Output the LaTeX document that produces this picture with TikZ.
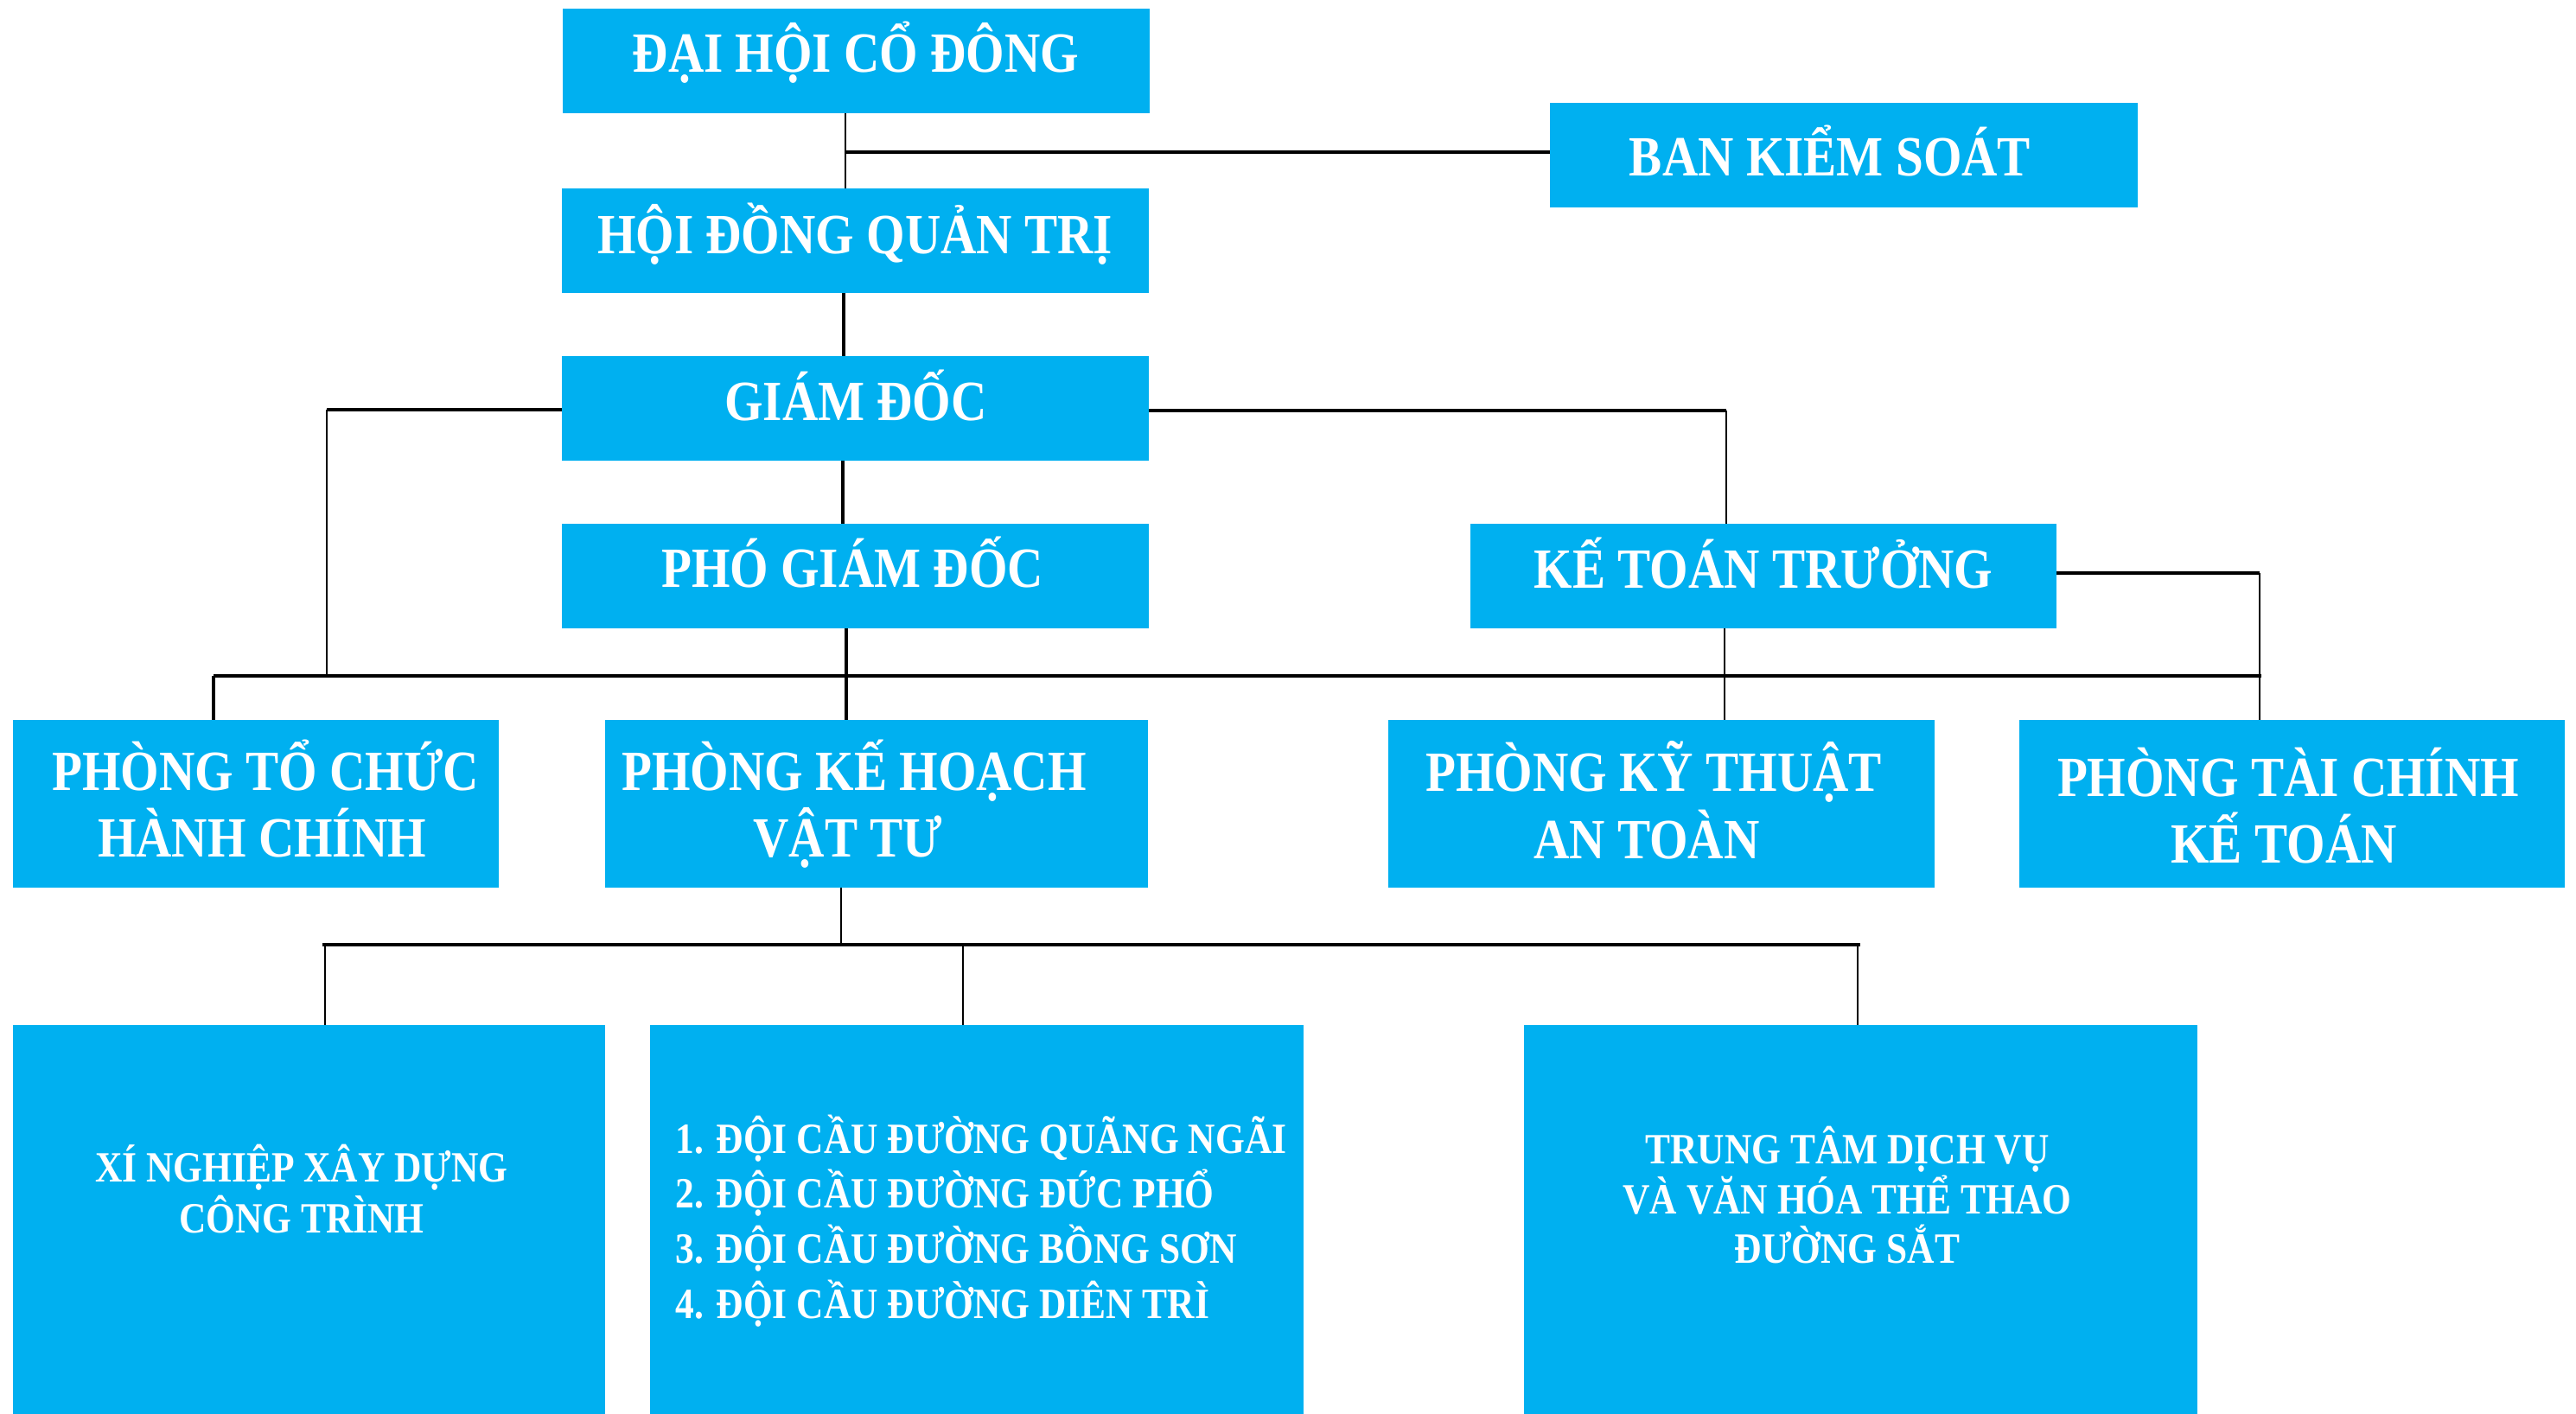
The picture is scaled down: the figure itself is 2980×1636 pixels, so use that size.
\documentclass[tikz,border=0pt]{standalone}
\usepackage{fontspec}
\newfontfamily\bxf{Liberation Serif}[FakeStretch=0.87]
\definecolor{boxblue}{HTML}{00B0F0}
\begin{document}
\begin{tikzpicture}[x=0.01cm,y=-0.01cm,
  box/.style={fill=boxblue, draw=none, inner sep=0pt, outer sep=0pt, minimum height=1.21cm},
  tall/.style={box, minimum height=1.94cm},
  huge/.style={box, minimum height=4.5cm},
  big/.style={text=white, font=\bxf\bfseries\fontsize{18.7}{22}\selectfont, inner sep=0pt, anchor=base},
  small/.style={text=white, font=\bxf\bfseries\fontsize{14.2}{17}\selectfont, inner sep=0pt, anchor=base},
  thin/.style={line width=0.65pt, black},
  mid/.style={line width=0.95pt, black},
  thick/.style={line width=1.2pt, black}]
\useasboundingbox[fill=white] (0,0) rectangle (2980,1636);

% boxes
\node[box, minimum width=6.79cm] (dh) at (990.5,70.5) {};
\node[box, minimum width=6.80cm] (bks) at (2133,179.5) {};
\node[box, minimum width=6.79cm] (hdqt) at (989.5,278.5) {};
\node[box, minimum width=6.79cm] (gd) at (989.5,472.5) {};
\node[box, minimum width=6.79cm] (pgd) at (989.5,666.5) {};
\node[box, minimum width=6.78cm] (ktt) at (2040,666.5) {};
\node[tall, minimum width=5.62cm] (ptchc) at (296,930) {};
\node[tall, minimum width=6.28cm] (pkhvt) at (1014,930) {};
\node[tall, minimum width=6.32cm] (pktat) at (1922,930) {};
\node[tall, minimum width=6.31cm] (ptckt) at (2651.5,930) {};
\node[huge, minimum width=6.85cm] (xn) at (357.5,1411) {};
\node[huge, minimum width=7.56cm] (doi) at (1130,1411) {};
\node[huge, minimum width=7.79cm] (tt) at (2152.5,1411) {};

% texts
\node[big] (dh-t) at (990,83) {ĐẠI HỘI CỔ ĐÔNG};
\node[big] (bks-t) at (2117,203) {BAN KIỂM SOÁT};
\node[big] (hdqt-t) at (989,293) {HỘI ĐỒNG QUẢN TRỊ};
\node[big] (gd-t) at (990,486) {GIÁM ĐỐC};
\node[big] (pgd-t) at (986,679) {PHÓ GIÁM ĐỐC};
\node[big] (ktt-t) at (2040,680) {KẾ TOÁN TRƯỞNG};
\node[big] (ptchc-t1) at (307,914) {PHÒNG TỔ CHỨC};
\node[big] (ptchc-t2) at (303,991) {HÀNH CHÍNH};
\node[big] (pkhvt-t1) at (988,914) {PHÒNG KẾ HOẠCH};
\node[big] (pkhvt-t2) at (981,991) {VẬT TƯ};
\node[big] (pktat-t1) at (1913,915) {PHÒNG KỸ THUẬT};
\node[big] (pktat-t2) at (1905,993) {AN TOÀN};
\node[big] (ptckt-t1) at (2647,921) {PHÒNG TÀI CHÍNH};
\node[big] (ptckt-t2) at (2642,998) {KẾ TOÁN};
\node[small] (xn-t1) at (349,1367) {XÍ NGHIỆP XÂY DỰNG};
\node[small] (xn-t2) at (349,1426) {CÔNG TRÌNH};
\node[small, anchor=base west] (doi-t1) at (781,1334) {1. ĐỘI CẦU ĐƯỜNG QUÃNG NGÃI};
\node[small, anchor=base west] (doi-t2) at (781,1397) {2. ĐỘI CẦU ĐƯỜNG ĐỨC PHỔ};
\node[small, anchor=base west] (doi-t3) at (781,1461) {3. ĐỘI CẦU ĐƯỜNG BỒNG SƠN};
\node[small, anchor=base west] (doi-t4) at (781,1525) {4. ĐỘI CẦU ĐƯỜNG DIÊN TRÌ};
\node[small] (tt-t1) at (2137,1346) {TRUNG TÂM DỊCH VỤ};
\node[small] (tt-t2) at (2137,1404) {VÀ VĂN HÓA THỂ THAO};
\node[small] (tt-t3) at (2137,1461) {ĐƯỜNG SẮT};

% junction coordinates
\coordinate (j1) at (978,176);
\coordinate (x2) at (976,0);
\coordinate (j3) at (378,474);
\coordinate (b1) at (378,782);
\coordinate (busL) at (247,782);
\coordinate (busR) at (2616,782);
\coordinate (j4) at (1997,475);
\coordinate (x5) at (975,0);
\coordinate (x6) at (979,0);
\coordinate (j7) at (2614,663);
\coordinate (x8) at (1995,0);
\coordinate (j9) at (973,1093);
\coordinate (b2L) at (373,1093);
\coordinate (b2R) at (2152,1093);
\coordinate (d1) at (376,1093);
\coordinate (d2) at (1114,1093);
\coordinate (d3) at (2149,1093);

% connectors
\draw[thin] (j1 |- dh.south) -- (j1 |- hdqt.north);
\draw[mid] (j1) -- (bks.west |- j1);
\draw[thick] (x2 |- hdqt.south) -- (x2 |- gd.north);
\draw[mid] (gd.west |- j3) -- (j3);
\draw[thin] (j3) -- (b1);
\draw[mid] (busL) -- (busR);
\draw[thick] (busL) -- (busL |- ptchc.north);
\draw[mid] (gd.east |- j4) -- (j4);
\draw[thin] (j4) -- (j4 |- ktt.north);
\draw[mid] (x5 |- gd.south) -- (x5 |- pgd.north);
\draw[mid] (x6 |- pgd.south) -- (x6 |- pkhvt.north);
\draw[mid] (ktt.east |- j7) -- (j7);
\draw[thin] (j7) -- (j7 |- ptckt.north);
\draw[thin] (x8 |- ktt.south) -- (x8 |- pktat.north);
\draw[thin] (j9 |- pkhvt.south) -- (j9);
\draw[mid] (b2L) -- (b2R);
\draw[thin] (d1) -- (d1 |- xn.north);
\draw[thin] (d2) -- (d2 |- doi.north);
\draw[thin] (d3) -- (d3 |- tt.north);
\end{tikzpicture}
\end{document}
